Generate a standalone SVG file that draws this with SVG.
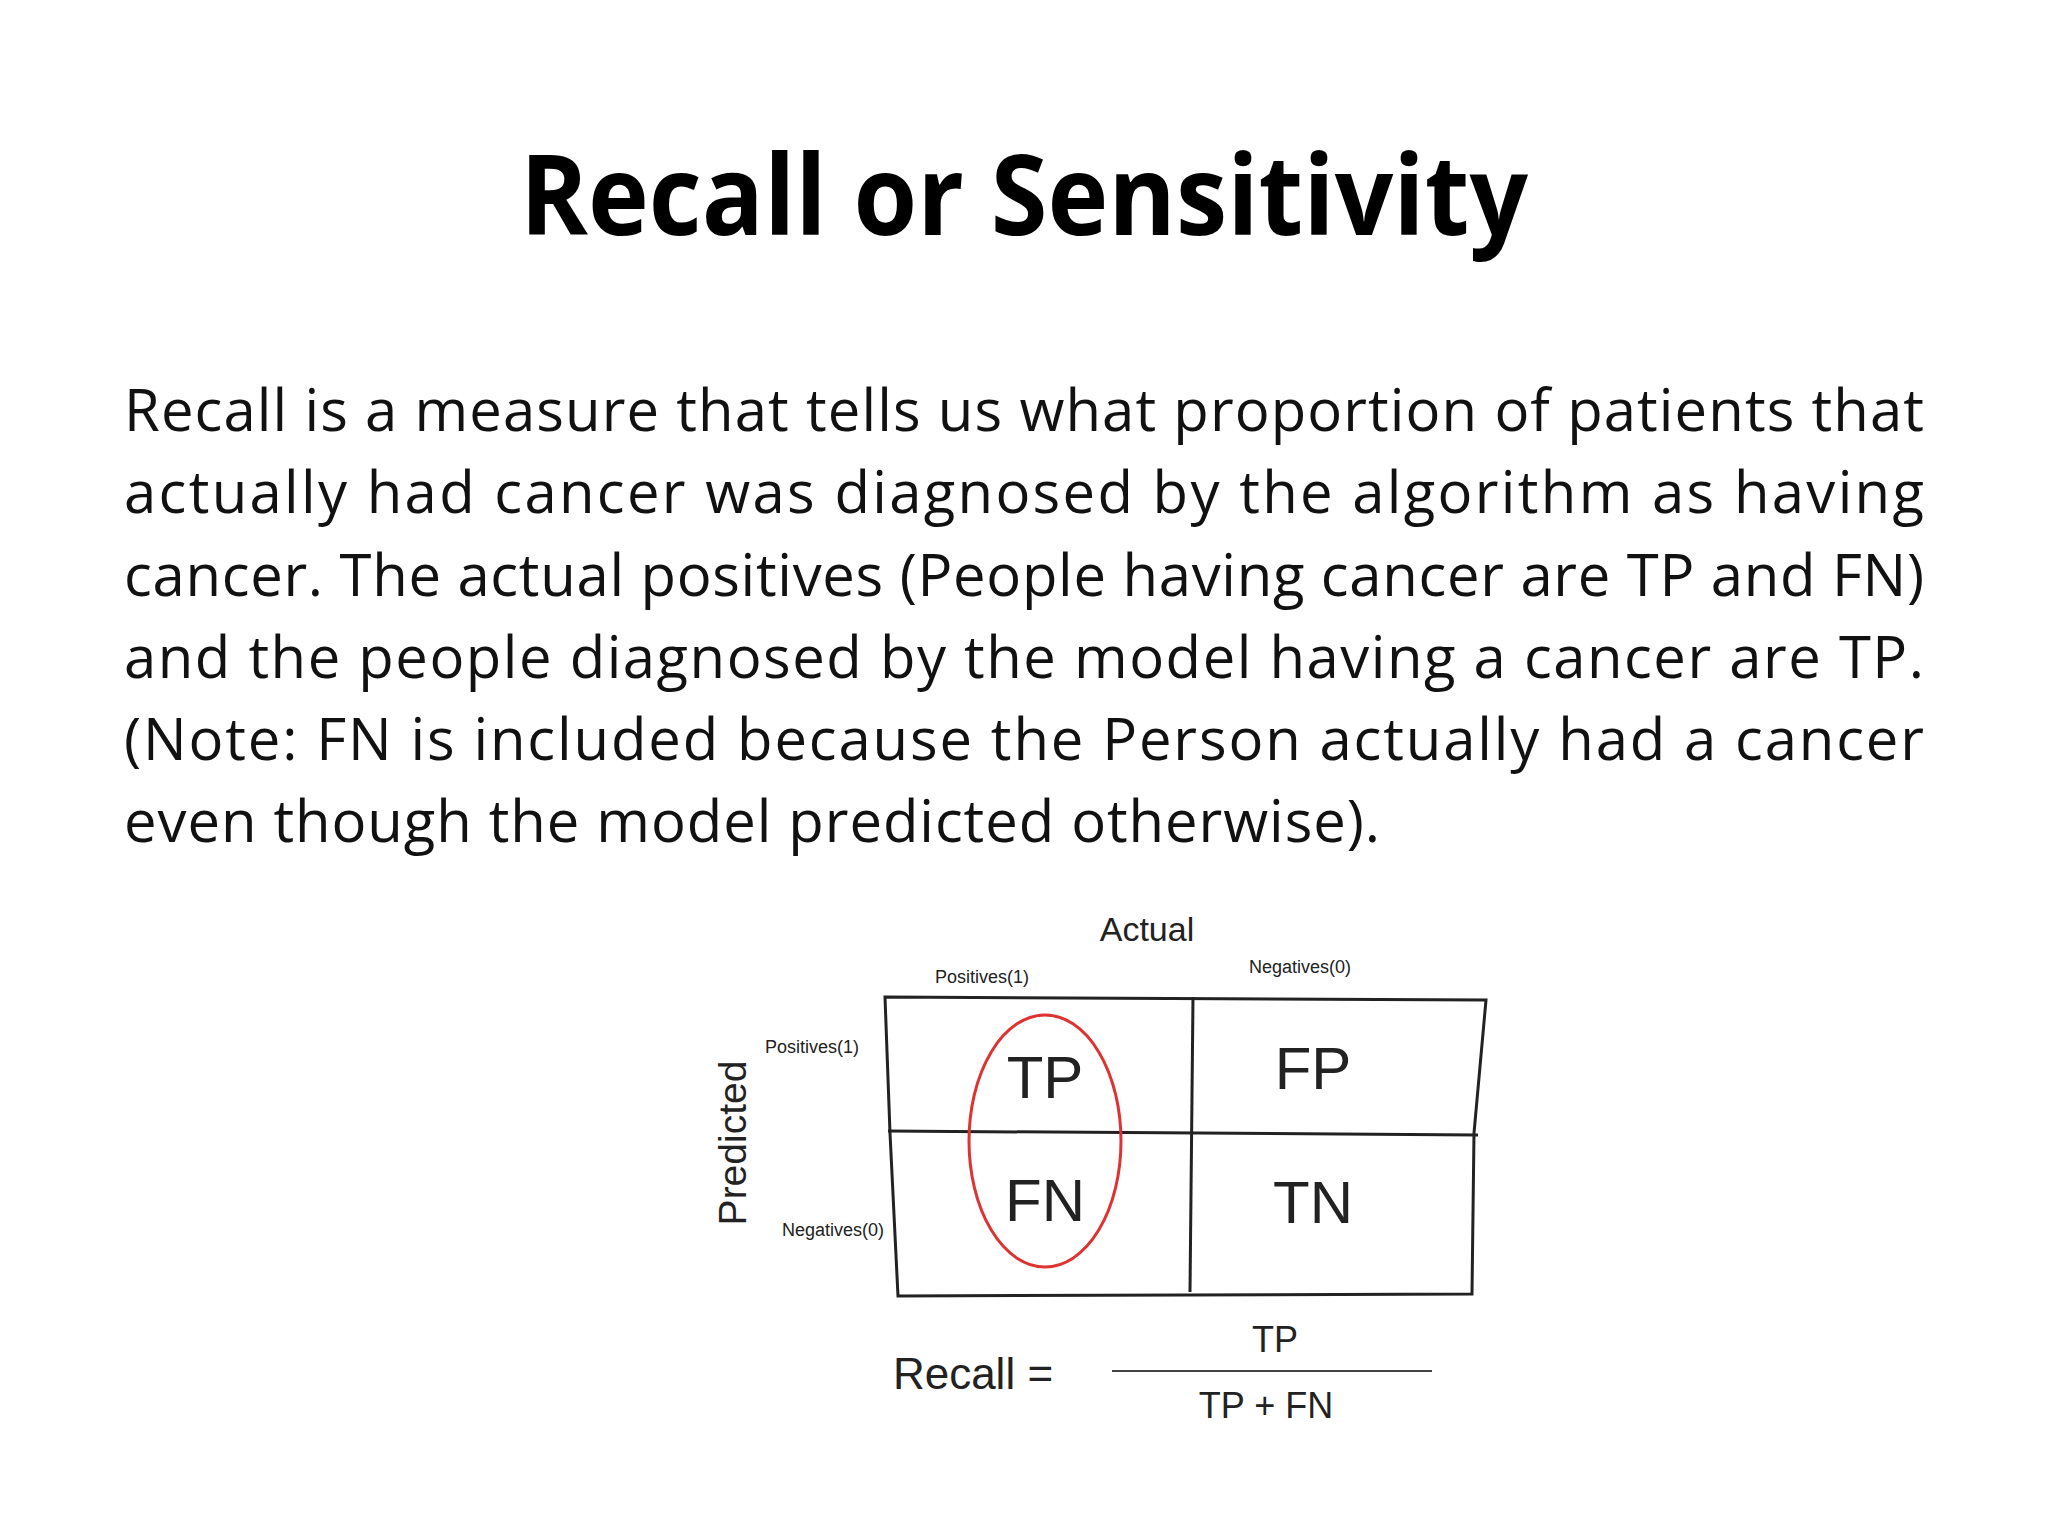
<svg xmlns="http://www.w3.org/2000/svg" width="2048" height="1536" viewBox="0 0 2048 1536">
<style>
.body{font-family:"Open Sans","Liberation Sans",sans-serif;font-size:58px;fill:#111}
.d{font-family:"Liberation Sans",Arial,sans-serif;fill:#222}
.cell{font-size:60px;text-anchor:middle}
.sm{font-size:18px;text-anchor:middle}
</style>
<rect width="2048" height="1536" fill="#fff"/>
<text x="1024" y="235" text-anchor="middle" font-family="Open Sans,Liberation Sans,sans-serif" font-weight="bold" font-size="112" textLength="1008" lengthAdjust="spacingAndGlyphs" fill="#000">Recall or Sensitivity</text>
<g class="body">
<text x="124" y="431" textLength="1800" lengthAdjust="spacing">Recall is a measure that tells us what proportion of patients that</text>
<text x="124" y="513" textLength="1800" lengthAdjust="spacing">actually had cancer was diagnosed by the algorithm as having</text>
<text x="124" y="596" textLength="1800" lengthAdjust="spacing">cancer. The actual positives (People having cancer are TP and FN)</text>
<text x="124" y="678" textLength="1800" lengthAdjust="spacing">and the people diagnosed by the model having a cancer are TP.</text>
<text x="124" y="760" textLength="1800" lengthAdjust="spacing">(Note: FN is included because the Person actually had a cancer</text>
<text x="124" y="842" textLength="1256" lengthAdjust="spacing">even though the model predicted otherwise).</text>
</g>
<g id="matrix" fill="none" stroke="#222" stroke-width="3">
<path d="M885 997 L1486 1000 L1474 1133 L1472 1294 L898 1296 L890 1133 Z"/>
<path d="M1193 997 L1190 1292"/>
<path d="M888 1131 L1478 1135"/>
</g>
<g id="labels" class="d">
<text x="1147" y="941" font-size="34" text-anchor="middle">Actual</text>
<text x="982" y="983" class="sm">Positives(1)</text>
<text x="1300" y="973" class="sm">Negatives(0)</text>
<text x="812" y="1053" class="sm">Positives(1)</text>
<text x="833" y="1236" class="sm" font-size="15">Negatives(0)</text>
<text transform="translate(746 1143) rotate(-90)" font-size="39" text-anchor="middle">Predicted</text>
<text x="1045" y="1098" class="cell">TP</text>
<text x="1313" y="1089" class="cell">FP</text>
<text x="1045" y="1221" class="cell">FN</text>
<text x="1313" y="1223" class="cell">TN</text>
</g>
<ellipse id="circle" cx="1045" cy="1141" rx="76" ry="126" fill="none" stroke="#d33" stroke-width="3"/>
<g id="formula" class="d">
<text x="973" y="1389" font-size="44" text-anchor="middle">Recall =</text>
<line x1="1112" y1="1371" x2="1432" y2="1371" stroke="#444" stroke-width="2"/>
<text x="1275" y="1352" font-size="36" text-anchor="middle">TP</text>
<text x="1266" y="1418" font-size="36" text-anchor="middle">TP + FN</text>
</g>
</svg>
